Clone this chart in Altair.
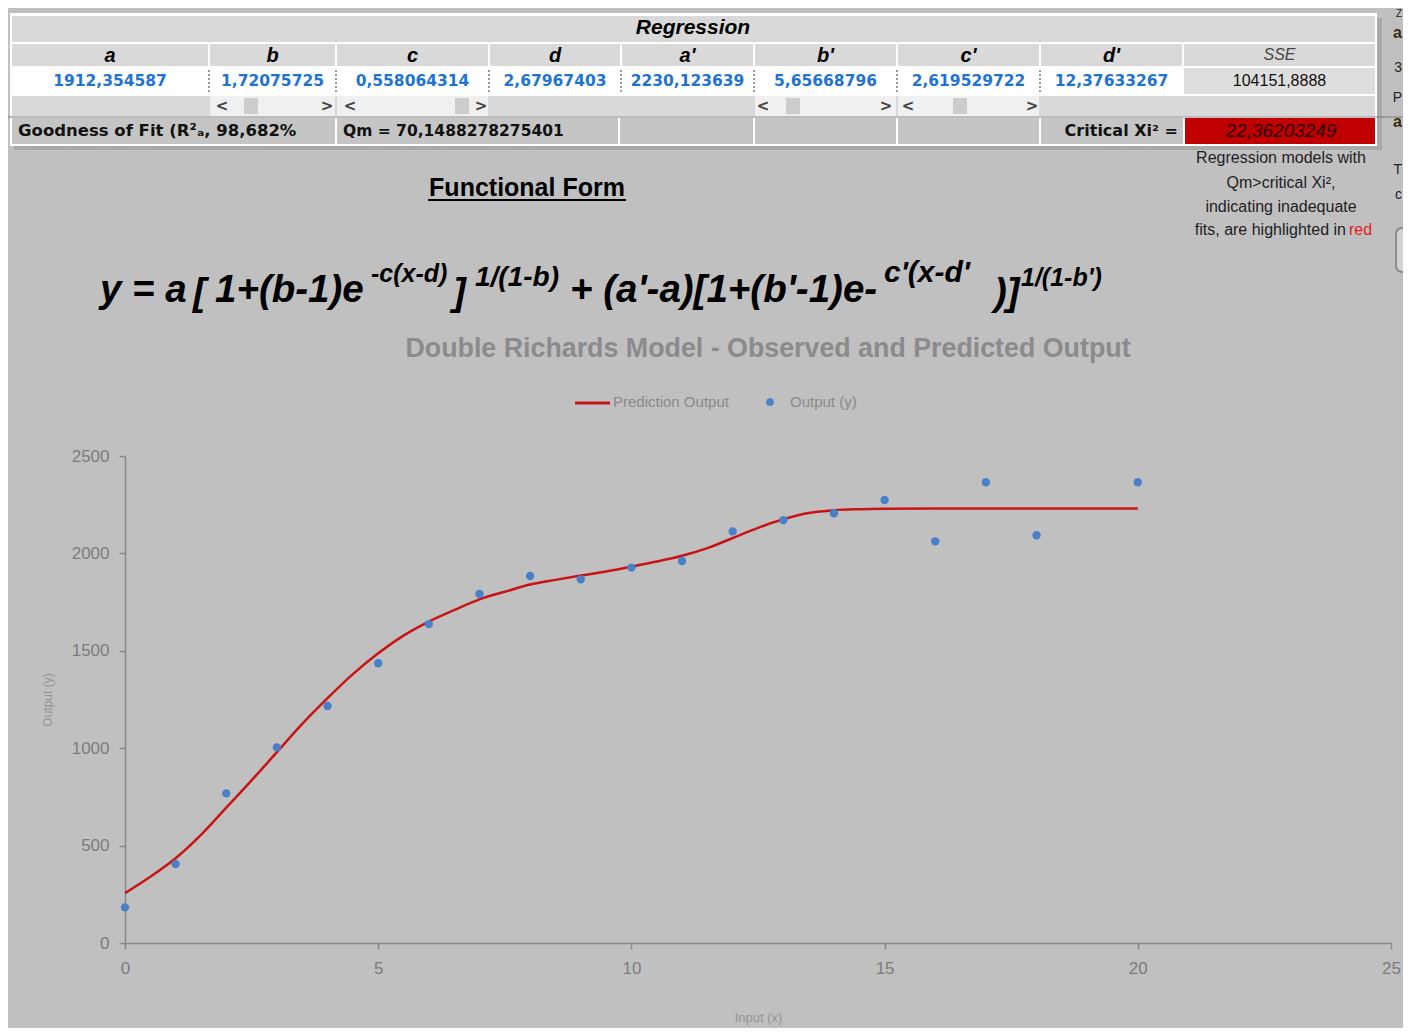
import altair as alt
import pandas as pd

# ---------------- data ----------------
x_obs = [0, 1, 2, 3, 4, 5, 6, 7, 8, 9, 10, 11, 12, 13, 14, 15, 16, 17, 18, 20]
y_obs = [183, 405, 768, 1004, 1217, 1436, 1637, 1792, 1884, 1867, 1927, 1961,
         2113, 2171, 2206, 2274, 2062, 2365, 2093, 2365]

x_pred = [0, 0.5, 1, 1.5, 2, 2.5, 3, 3.5, 4, 4.5, 5, 5.5, 6, 6.5, 7, 7.5, 8, 8.5,
          9, 9.5, 10, 10.5, 11, 11.5, 12, 12.5, 13, 13.5, 14, 14.5, 15, 16, 17,
          18, 19, 20]
y_pred = [256, 340, 435, 555, 695, 835, 980, 1125, 1257, 1380, 1487, 1578, 1650,
          1709, 1764, 1803, 1840, 1864, 1886, 1907, 1932, 1958, 1988, 2027, 2079,
          2131, 2175, 2207, 2222, 2227, 2229, 2230, 2230, 2231, 2231, 2231]

x_ticks = [0, 5, 10, 15, 20, 25]
y_ticks = [0, 500, 1000, 1500, 2000, 2500]

param_names = ["a", "b", "c", "d", "a'", "b'", "c'", "d'"]
param_values = ["1912,354587", "1,72075725", "0,558064314", "2,67967403",
                "2230,123639", "5,65668796", "2,619529722", "12,37633267"]
sse_label = "SSE"
sse_value = "104151,8888"
r2_text = "Goodness of Fit (R²ₐ, 98,682%"
qm_text = "Qm = 70,1488278275401"
crit_label = "Critical Xi² ="
crit_value = "22,36203249"
note_lines = ["Regression models with", "Qm>critical Xi²,", "indicating inadequate",
              "fits, are highlighted in"]
note_red = "red"

title_text = "Double Richards Model - Observed and Predicted Output"
legend_line = "Prediction Output"
legend_dot = "Output (y)"

# ---------------- layout (page pixels) ----------------
X0, Y0 = 125, 456          # top-left of plot area on the page
PW, PH = 1266, 487         # plot area size
BG = "#c0c0c0"

col_l = [12, 210, 337, 490, 622, 755, 898, 1041, 1184]
col_r = [208, 335, 488, 620, 753, 896, 1039, 1182, 1375]
col_c = [(a + b) / 2 for a, b in zip(col_l, col_r)]

PXS = dict(scale=None, axis=None)


def rect_layer(rows, **kw):
    df = pd.DataFrame({
        "x": [r[0] - X0 for r in rows], "x2": [r[2] - X0 for r in rows],
        "y": [r[1] - Y0 for r in rows], "y2": [r[3] - Y0 for r in rows],
        "f": [r[4] for r in rows]})
    return alt.Chart(df).mark_rect(**kw).encode(
        x=alt.X("x:Q", **PXS), x2="x2:Q",
        y=alt.Y("y:Q", **PXS), y2="y2:Q",
        fill=alt.Fill("f:N", scale=None, legend=None))


def text_layer(rows, **kw):
    df = pd.DataFrame({"x": [r[0] - X0 for r in rows],
                       "y": [r[1] - Y0 for r in rows],
                       "t": [r[2] for r in rows]})
    return alt.Chart(df).mark_text(**kw).encode(
        x=alt.X("x:Q", **PXS), y=alt.Y("y:Q", **PXS), text="t:N")


def hrule_layer(rows, **kw):
    df = pd.DataFrame({"x": [r[0] - X0 for r in rows],
                       "x2": [r[1] - X0 for r in rows],
                       "y": [r[2] - Y0 for r in rows]})
    return alt.Chart(df).mark_rule(**kw).encode(
        x=alt.X("x:Q", **PXS), x2="x2:Q", y=alt.Y("y:Q", **PXS))


def vrule_layer(rows, **kw):
    df = pd.DataFrame({"x": [r[0] - X0 for r in rows],
                       "y": [r[1] - Y0 for r in rows],
                       "y2": [r[2] - Y0 for r in rows]})
    return alt.Chart(df).mark_rule(**kw).encode(
        x=alt.X("x:Q", **PXS), y=alt.Y("y:Q", **PXS), y2="y2:Q")


layers = []

# ---- table background / cells ----
cells = [(10, 13, 1377, 146, "#ffffff"),
         (1377, 18, 1382, 150, "#a9a9a9"),
         (14, 146, 1382, 150, "#a9a9a9"),
         (12, 16, 1375, 42, "#d9d9d9")]
for l, r in zip(col_l, col_r):
    cells.append((l, 44, r, 66, "#d9d9d9"))
for i, (l, r) in enumerate(zip(col_l, col_r)):
    cells.append((l, 68, r, 94, "#ffffff" if i < 8 else "#dedede"))
cells.append((12, 96, 1375, 116, "#d9d9d9"))
for i in [1, 2, 5, 6]:
    cells.append((col_l[i], 96, col_r[i], 116, "#f0f0f0"))
row5 = [(12, 335), (337, 618), (620, 753), (755, 896), (898, 1039), (1041, 1183)]
for l, r in row5:
    cells.append((l, 118, r, 144, "#c5c5c5"))
cells.append((1185, 118, 1375, 144, "#c00000"))
# scrollbar thumbs
for a in [244, 455, 786, 953]:
    cells.append((a, 98, a + 14, 114, "#cdcdcd"))
layers.append(rect_layer(cells))

# pane line
layers.append(hrule_layer([(8, 1403, 117)], color="#7a7a7a", strokeWidth=1))

# dotted separators in value row
layers.append(vrule_layer([(x, 70, 93) for x in [209, 336, 489, 621, 754, 897, 1040]],
                          color="#333333", strokeDash=[2, 2], strokeWidth=1))

# scrollbar arrows
layers.append(text_layer([(222, 106, "<"), (327, 106, ">"), (350, 106, "<"), (481, 106, ">"),
                          (763, 106, "<"), (886, 106, ">"), (908, 106, "<"), (1032, 106, ">")],
                         font="DejaVu Sans", fontSize=15, fontWeight="bold", color="#444444"))

# table texts
layers.append(text_layer([(693, 28, "Regression")], font="Liberation Sans", fontSize=21,
                         fontWeight="bold", fontStyle="italic", color="#000000"))
layers.append(text_layer([(c, 56, n) for c, n in zip(col_c[:8], param_names)],
                         font="Liberation Sans", fontSize=20, fontWeight="bold",
                         fontStyle="italic", color="#000000"))
layers.append(text_layer([(col_c[8], 55, sse_label)], font="Liberation Sans", fontSize=16,
                         fontStyle="italic", color="#444444"))
layers.append(text_layer([(c, 81, v) for c, v in zip(col_c[:8], param_values)],
                         font="DejaVu Sans", fontSize=15.5, fontWeight="bold", color="#1f74d1"))
layers.append(text_layer([(col_c[8], 81, sse_value)], font="Liberation Sans", fontSize=16,
                         color="#111111"))
layers.append(text_layer([(18, 131, r2_text)], align="left",
                         font="DejaVu Sans", fontSize=16.5, fontWeight="bold", color="#111111"))
layers.append(text_layer([(343, 131, qm_text)], align="left",
                         font="DejaVu Sans", fontSize=15.5, fontWeight="bold", color="#111111"))
layers.append(text_layer([(1178, 131, crit_label)], align="right",
                         font="DejaVu Sans", fontSize=16, fontWeight="bold", color="#111111"))
layers.append(text_layer([(1281, 131, crit_value)], font="Liberation Sans", fontSize=19,
                         fontStyle="italic", color="#2a0000"))

# note under the table
layers.append(text_layer([(1281, 158, note_lines[0]), (1281, 183, note_lines[1]),
                          (1281, 207, note_lines[2])],
                         font="Liberation Sans", fontSize=16, color="#1e1e1e"))
layers.append(text_layer([(1346, 230, note_lines[3])], align="right",
                         font="Liberation Sans", fontSize=16, color="#1e1e1e"))
layers.append(text_layer([(1349, 230, note_red)], align="left",
                         font="Liberation Sans", fontSize=16, color="#e02020"))

# column at the right edge (partly outside the window in the original)
layers.append(text_layer([(1402, 33, "a"), (1402, 122, "a")], align="right",
                         font="Liberation Sans", fontSize=16, fontWeight="bold", color="#3a2a10"))
layers.append(text_layer([(1402, 68, "3"), (1402, 98, "P"), (1402, 170, "T"),
                          (1402, 195, "c")], align="right",
                         font="Liberation Sans", fontSize=14, color="#222222"))
layers.append(text_layer([(1402, 14, "Z")], align="right",
                         font="Liberation Sans", fontSize=10, color="#222222"))
layers.append(rect_layer([(1396, 228, 1440, 272, "#d2d2d2")], stroke="#8a8a8a",
                         strokeWidth=2, cornerRadius=6))

# functional form heading + formula
layers.append(text_layer([(527, 188, "Functional Form")], font="Liberation Sans", fontSize=25,
                         fontWeight="bold", color="#000000"))
layers.append(hrule_layer([(428, 626, 200)], color="#000000", strokeWidth=2))

F = dict(font="Liberation Sans", fontWeight="bold", fontStyle="italic", color="#000000",
         align="left", baseline="alphabetic")
layers.append(text_layer([(100, 302, "y = a"), (193, 305, "["), (215, 302, "1+(b-1)e"),
                          (453, 305, "]"), (570, 302, "+ (a'-a)[1+(b'-1)e-"),
                          (994, 305, ")]")], fontSize=38.5, **F))
layers.append(text_layer([(371, 282, "-c(x-d)")], fontSize=25, **F))
layers.append(text_layer([(475, 286, "1/(1-b)")], fontSize=28, **F))
layers.append(text_layer([(884, 282, "c'(x-d'")], fontSize=30, **F))
layers.append(text_layer([(1021, 286, "1/(1-b')")], fontSize=25, **F))

# chart title
layers.append(text_layer([(768, 349, title_text)], font="Liberation Sans", fontSize=26.8,
                         fontWeight="bold", color="#8b8b8b"))

# legend
layers.append(hrule_layer([(575, 610, 403)], color="#c81414", strokeWidth=3))
layers.append(text_layer([(613, 402, legend_line), (790, 402, legend_dot)], align="left",
                         font="Liberation Sans", fontSize=15, color="#8a8a8a"))
legend_dot_df = pd.DataFrame({"x": [770 - X0], "y": [402 - Y0]})
layers.append(alt.Chart(legend_dot_df).mark_circle(size=60, color="#4a80c8", opacity=1).encode(
    x=alt.X("x:Q", **PXS), y=alt.Y("y:Q", **PXS)))

# ---- the scatter / line chart ----
xs = alt.Scale(domain=[0, 25], nice=False, zero=False)
ys = alt.Scale(domain=[0, 2500], nice=False)
AXC = "#888888"
x_axis = alt.Axis(values=x_ticks, format="d", title="Input (x)", grid=False, domainColor=AXC,
                  domainWidth=1.5, tickColor=AXC, tickWidth=1.5, tickSize=6, labelFlush=False,
                  labelFont="Liberation Sans", labelFontSize=17,
                  labelColor="#7c7c7c", labelPadding=11, titleFont="Liberation Sans",
                  titleFontSize=13, titleFontWeight="normal", titleColor="#949494",
                  titlePadding=35)
y_axis = alt.Axis(values=y_ticks, format="d", title="Output (y)", grid=False, domainColor=AXC,
                  domainWidth=1.5, tickColor=AXC, tickWidth=1.5, tickSize=6,
                  labelFont="Liberation Sans", labelFontSize=17, labelColor="#7c7c7c",
                  labelPadding=10, titleFont="Liberation Sans", titleFontSize=12,
                  titleFontWeight="normal", titleColor="#949494", titlePadding=17)

pred_df = pd.DataFrame({"x": x_pred, "y": y_pred})
obs_df = pd.DataFrame({"x": x_obs, "y": y_obs})

line = alt.Chart(pred_df).mark_line(color="#c81414", strokeWidth=2.5,
                                    interpolate="monotone").encode(
    x=alt.X("x:Q", scale=xs, axis=x_axis), y=alt.Y("y:Q", scale=ys, axis=y_axis))
points = alt.Chart(obs_df).mark_circle(size=70, color="#4a80c8", opacity=1).encode(
    x=alt.X("x:Q", scale=xs), y=alt.Y("y:Q", scale=ys))

chart = alt.layer(line, points, *layers).properties(
    width=PW, height=PH,
    padding={"left": X0 - 8, "top": Y0 - 8, "right": 1403 - X0 - PW, "bottom": 1028 - Y0 - PH},
    autosize=alt.AutoSizeParams(type="none"),
    background=BG,
).configure_view(stroke=None)

chart.save("out.html", embed_options={"renderer": "svg", "actions": False})
